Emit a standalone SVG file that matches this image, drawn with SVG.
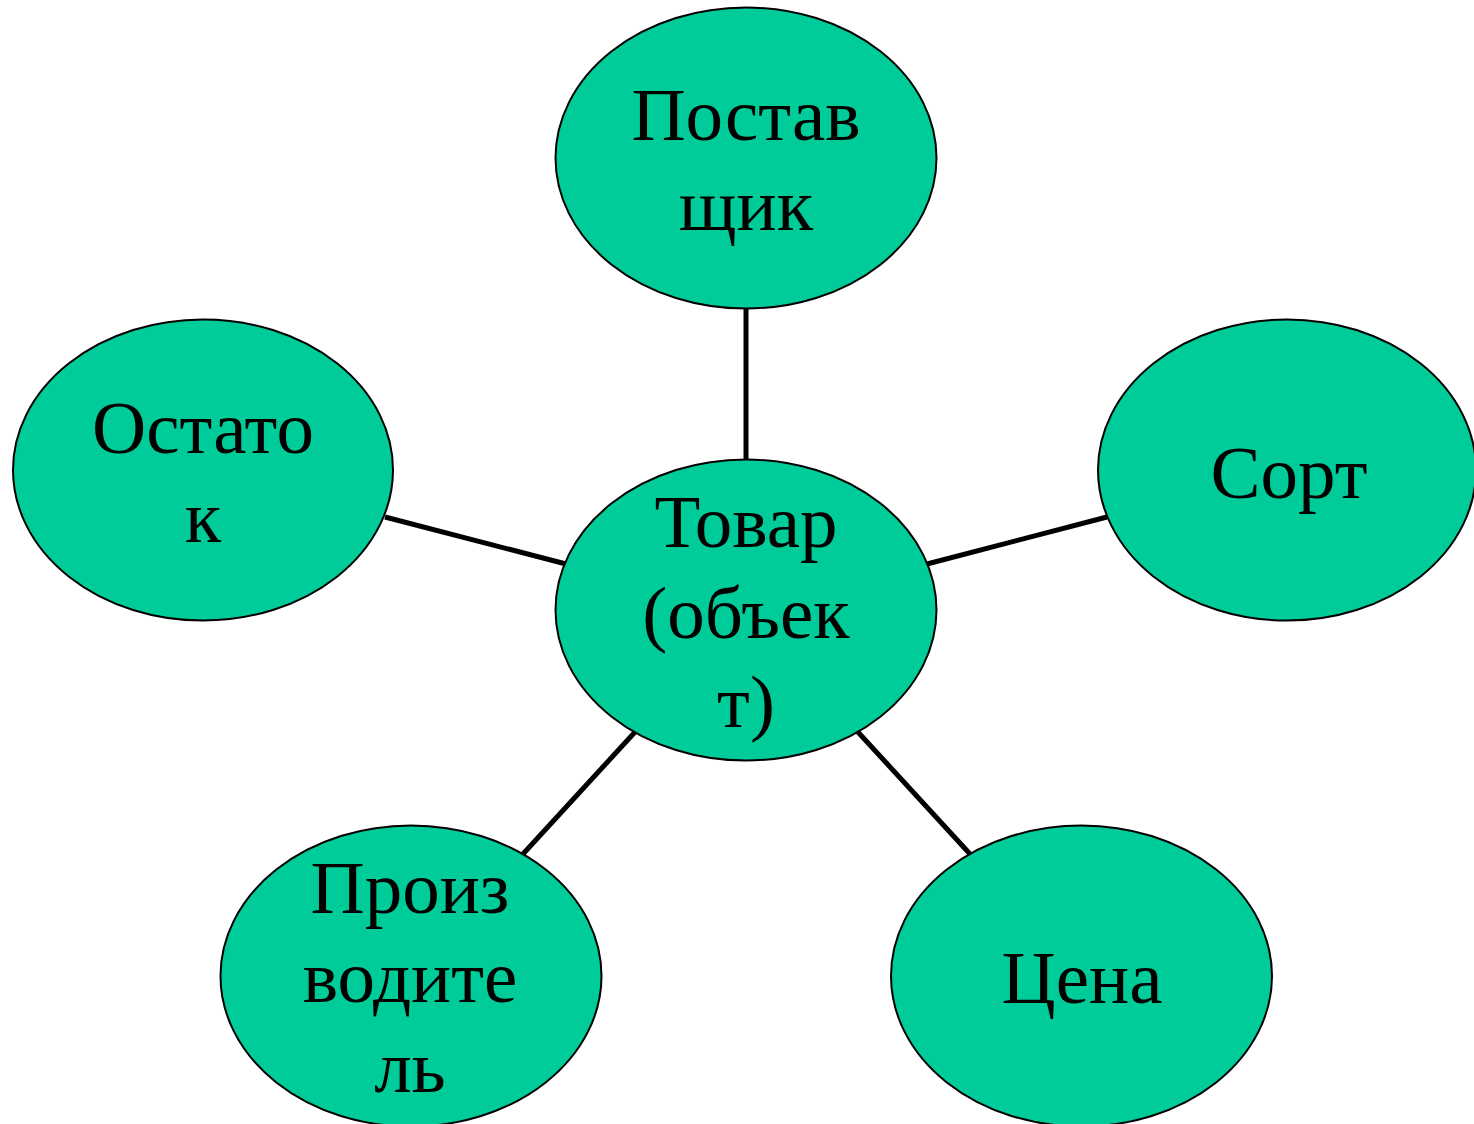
<svg xmlns="http://www.w3.org/2000/svg" width="1474" height="1124" viewBox="0 0 1474 1124">
  <style>
    .node ellipse { fill: #00CC99; stroke: #000000; stroke-width: 2; }
    .node text { font-family: "Liberation Serif", "Times New Roman", serif; font-size: 75px; fill: #000000; text-anchor: middle; }
    .links line { stroke: #000000; stroke-width: 5; stroke-linecap: butt; }
  </style>
  <rect width="1474" height="1124" fill="#ffffff"/>

  <!-- connectors from the central entity to its attributes -->
  <g id="connectors" class="links">
    <line x1="746" y1="308" x2="746" y2="460"/>
    <line x1="385" y1="517" x2="566" y2="564"/>
    <line x1="927" y1="564" x2="1107" y2="517"/>
    <line x1="523" y1="854" x2="635" y2="732"/>
    <line x1="857" y1="731" x2="970" y2="854"/>
  </g>

  <g id="node-supplier" class="node">
    <ellipse cx="746" cy="158" rx="190.5" ry="150.5"/>
    <text x="746" y="140">Постав</text>
    <text x="746" y="230">щик</text>
  </g>

  <g id="node-product" class="node">
    <ellipse cx="746" cy="610" rx="190.5" ry="150.5"/>
    <text x="746" y="547">Товар</text>
    <text x="746" y="638">(объек</text>
    <text x="746" y="727">т)</text>
  </g>

  <g id="node-stock" class="node">
    <ellipse cx="203" cy="470" rx="190" ry="150.5"/>
    <text x="203" y="453">Остато</text>
    <text x="203" y="542">к</text>
  </g>

  <g id="node-grade" class="node">
    <ellipse cx="1287" cy="470" rx="189" ry="150.5"/>
    <text x="1289" y="498">Сорт</text>
  </g>

  <g id="node-manufacturer" class="node">
    <ellipse cx="411" cy="976" rx="190.5" ry="150.5"/>
    <text x="410" y="913">Произ</text>
    <text x="410" y="1002">водите</text>
    <text x="410" y="1092">ль</text>
  </g>

  <g id="node-price" class="node">
    <ellipse cx="1081.5" cy="976" rx="190.5" ry="150.5"/>
    <text x="1082" y="1003">Цена</text>
  </g>
</svg>
